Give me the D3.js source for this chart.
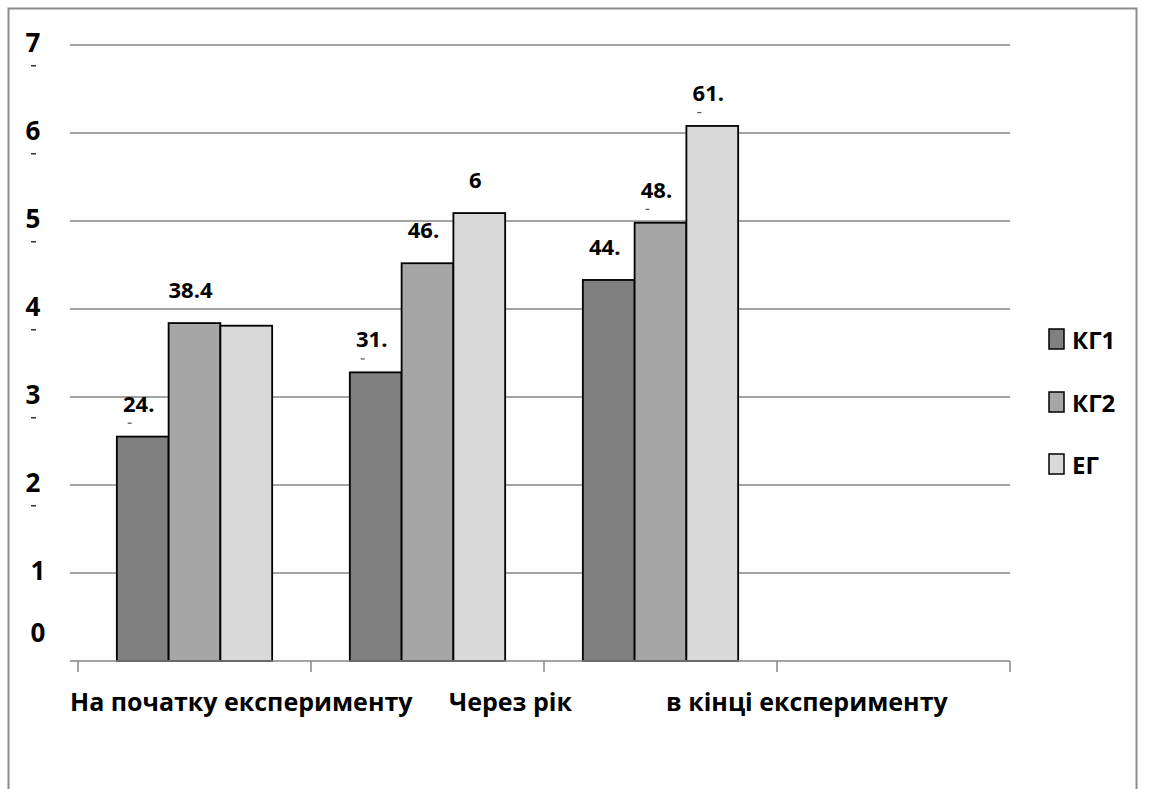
<!DOCTYPE html>
<html>
<head>
<meta charset="utf-8">
<script src="https://cdn.jsdelivr.net/npm/d3@7"></script>
<style>
  html, body { margin: 0; padding: 0; background: #fff; }
  svg { display: block; font-family: "Open Sans", "Noto Sans", sans-serif; font-weight: 700; }
</style>
</head>
<body>
<svg id="chart" width="1149" height="789"></svg>
<script>
// Stage names along the x axis (the fourth slot is left empty)
const categories = ["На початку експерименту", "Через рік", "в кінці експерименту", ""];
const seriesNames = ["КГ1", "КГ2", "ЕГ"];
// Bar heights per stage, one array per group
const kg1Values = [2.55, 3.28, 4.33];
const kg2Values = [3.84, 4.52, 4.98];
const egValues  = [3.81, 5.09, 6.08];
// Value labels printed above the bars (clipped in the original layout)
const kg1Labels = ["24.", "31.", "44."];
const kg2Labels = ["38.4", "46.", "48."];
const egLabels  = ["", "6", "61."];
// Labels that show a clipped second line below them
const kg1Clipped = [true, true, false];
const kg2Clipped = [false, false, true];
const egClipped  = [false, false, true];
const yTicks = [0, 1, 2, 3, 4, 5, 6, 7];

const colors = ["#808080", "#a6a6a6", "#d9d9d9"];
const svg = d3.select("#chart");

// Outer frame
svg.append("rect")
  .attr("x", 8.5).attr("y", 8.5).attr("width", 1128).attr("height", 800)
  .attr("fill", "none").attr("stroke", "#8c8c8c").attr("stroke-width", 2);

const x0 = d3.scaleBand().domain(d3.range(categories.length)).range([78, 1010]).paddingInner(0).paddingOuter(0);
const x1 = d3.scaleBand().domain(d3.range(seriesNames.length)).range([0, x0.bandwidth()]).paddingInner(0).paddingOuter(0.75);
const y = d3.scaleLinear().domain([0, 7]).range([661, 45]);

// Horizontal gridlines
svg.append("g").selectAll("line").data(yTicks.filter(d => d > 0)).join("line")
  .attr("x1", 70).attr("x2", 1010)
  .attr("y1", d => y(d)).attr("y2", d => y(d))
  .attr("stroke", "#868686").attr("stroke-width", 1.5);

// Y tick labels
svg.append("g").selectAll("text").data(yTicks).join("text")
  .attr("x", d => d <= 1 ? 38 : 33)
  .attr("y", d => d === 0 ? 632 : y(d) - 3)
  .attr("text-anchor", "middle").attr("dominant-baseline", "central")
  .attr("font-size", 26).attr("fill", "#000")
  .text(d => d);
// clipped second line under the tick labels
svg.append("g").selectAll("rect").data(yTicks.filter(d => d >= 2)).join("rect")
  .attr("x", 31).attr("y", d => y(d) + 20).attr("width", 5).attr("height", 1.5)
  .attr("fill", "#333");

const series = [
  { values: kg1Values, labels: kg1Labels, clipped: kg1Clipped },
  { values: kg2Values, labels: kg2Labels, clipped: kg2Clipped },
  { values: egValues,  labels: egLabels,  clipped: egClipped }
];

const groups = svg.append("g").selectAll("g").data(d3.range(3)).join("g")
  .attr("transform", c => `translate(${x0(c)},0)`);

groups.selectAll("rect").data(c => series.map((s, i) => ({ i, v: s.values[c] }))).join("rect")
  .attr("x", d => x1(d.i)).attr("width", x1.bandwidth())
  .attr("y", d => y(d.v)).attr("height", d => y(0) - y(d.v))
  .attr("fill", d => colors[d.i]).attr("stroke", "#000").attr("stroke-width", 1.8);

groups.selectAll("text").data(c => series.map((s, i) => ({ i, v: s.values[c], t: s.labels[c] }))).join("text")
  .attr("x", d => x1(d.i) + x1.bandwidth() / 2 - 4)
  .attr("y", d => y(d.v) - 34)
  .attr("text-anchor", "middle").attr("dominant-baseline", "central")
  .attr("font-size", 22).attr("fill", "#000")
  .text(d => d.t);

groups.selectAll("rect.clip").data(c => series.map((s, i) => ({ i, v: s.values[c], k: s.clipped[c] })).filter(d => d.k)).join("rect")
  .attr("class", "clip")
  .attr("x", d => x1(d.i) + x1.bandwidth() / 2 - 15).attr("y", d => y(d.v) - 14)
  .attr("width", 4).attr("height", 1.2).attr("fill", "#555");

// Baseline and category ticks
svg.append("line").attr("x1", 70).attr("x2", 1010).attr("y1", y(0)).attr("y2", y(0))
  .attr("stroke", "#868686").attr("stroke-width", 1.5);
svg.append("g").selectAll("line").data(d3.range(categories.length + 1)).join("line")
  .attr("x1", i => i < categories.length ? x0(i) : x0.range()[1])
  .attr("x2", i => i < categories.length ? x0(i) : x0.range()[1])
  .attr("y1", y(0)).attr("y2", y(0) + 11)
  .attr("stroke", "#868686").attr("stroke-width", 1.5);

// Category labels, left-aligned as laid out in the original chart
const labelShift = [-8, 138, 122, 0];
svg.append("g").selectAll("text").data(categories).join("text")
  .attr("x", (d, i) => x0(i) + labelShift[i])
  .attr("y", 711)
  .attr("font-size", 25).attr("fill", "#000")
  .text(d => d);

// Legend
const legend = svg.append("g").selectAll("g").data(seriesNames).join("g")
  .attr("transform", (d, i) => `translate(1049,${[329, 392, 454][i]})`);
legend.append("rect").attr("width", 15).attr("height", 20)
  .attr("fill", (d, i) => colors[i]).attr("stroke", "#000").attr("stroke-width", 1.5);
legend.append("text").attr("x", 23).attr("y", 10)
  .attr("dominant-baseline", "central").attr("font-size", 24).attr("fill", "#000")
  .text(d => d);
</script>
</body>
</html>
